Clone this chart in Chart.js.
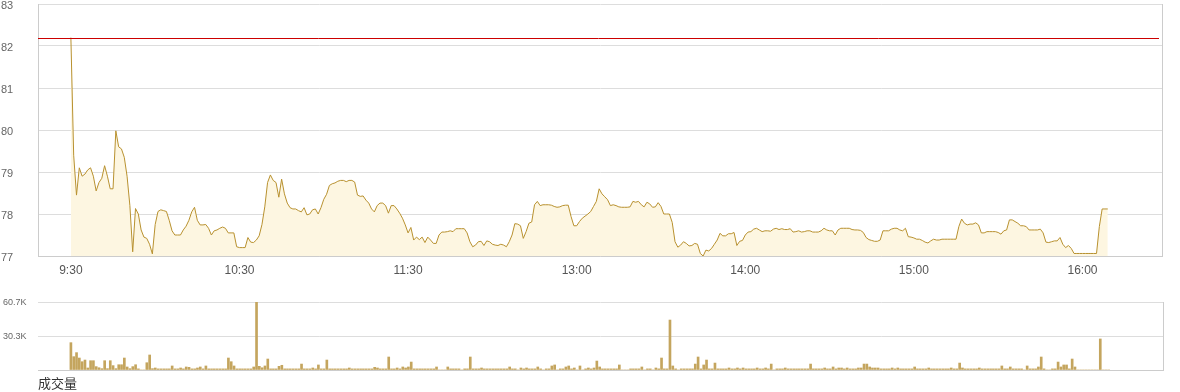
<!DOCTYPE html>
<html>
<head>
<meta charset="utf-8"/>
<title>分时走势</title>
<script src="https://cdn.jsdelivr.net/npm/chart.js"></script>
<style>
  body { margin: 0; background: #fff; width: 1180px; height: 392px; overflow: hidden; position: relative; }
  .box { position: absolute; left: 0; width: 1180px; }
</style>
</head>
<body>
<div class="box" style="top:0;height:290px"><canvas id="priceChart"></canvas></div>
<div class="box" style="top:290px;height:102px"><canvas id="volChart"></canvas></div>
<script>
// one value per trading minute, index 0 = 9:30
const prices = [
  82.2, 79.4, 78.45, 79.1, 78.9, 78.95, 79.05, 79.1, 78.9, 78.55,
  78.75, 78.85, 79.15, 78.9, 78.6, 78.6, 79.98, 79.6, 79.55, 79.35,
  78.9, 78.2, 77.1, 78.13, 78.0, 77.62, 77.45, 77.42, 77.28, 77.05,
  77.75, 78.06, 78.1, 78.08, 78.06, 77.85, 77.6, 77.5, 77.5, 77.5,
  77.62, 77.71, 77.85, 78.05, 78.16, 77.85, 77.74, 77.74, 77.75, 77.66,
  77.5, 77.6, 77.62, 77.66, 77.69, 77.66, 77.55, 77.55, 77.55, 77.22,
  77.2, 77.2, 77.2, 77.44, 77.33, 77.32, 77.38, 77.48, 77.75, 78.17,
  78.75, 78.93, 78.8, 78.75, 78.4, 78.83, 78.48, 78.26, 78.15, 78.12,
  78.12, 78.08, 78.05, 78.15, 77.98, 78.0, 78.1, 78.12, 78.0, 78.15,
  78.35, 78.47, 78.68, 78.72, 78.74, 78.78, 78.8, 78.8, 78.77, 78.8,
  78.8, 78.76, 78.45, 78.42, 78.43, 78.33, 78.26, 78.12, 78.05, 78.2,
  78.26, 78.26, 78.2, 78.02, 78.2, 78.2, 78.12, 78.02, 77.9, 77.74,
  77.55, 77.68, 77.38, 77.45, 77.39, 77.45, 77.32, 77.45, 77.38, 77.3,
  77.3, 77.5, 77.57, 77.57, 77.58, 77.6, 77.58, 77.65, 77.65, 77.65,
  77.65, 77.55, 77.34, 77.22, 77.26, 77.34, 77.35, 77.25, 77.36, 77.34,
  77.28, 77.26, 77.25, 77.28, 77.26, 77.22, 77.34, 77.5, 77.77, 77.76,
  77.72, 77.42, 77.58, 77.78, 77.81, 78.22, 78.3, 78.2, 78.22, 78.22,
  78.22, 78.21, 78.18, 78.16, 78.17, 78.2, 78.21, 78.21, 77.94, 77.72,
  77.72, 77.82, 77.9, 77.95, 78.0, 78.06, 78.18, 78.3, 78.6, 78.48,
  78.41, 78.34, 78.2, 78.22, 78.2, 78.17, 78.16, 78.16, 78.16, 78.17,
  78.3, 78.28, 78.3, 78.22, 78.17, 78.28, 78.24, 78.16, 78.17, 78.27,
  78.18, 78.0, 78.0, 78.0, 77.8, 77.34, 77.21, 77.26, 77.34, 77.3,
  77.24, 77.25, 77.3, 77.28, 77.06, 77.0, 77.14, 77.12, 77.18, 77.28,
  77.38, 77.54, 77.48, 77.48, 77.53, 77.53, 77.56, 77.25, 77.35, 77.37,
  77.5, 77.57, 77.58, 77.64, 77.66, 77.62, 77.58, 77.6, 77.6, 77.59,
  77.64, 77.66, 77.63, 77.65, 77.63, 77.63, 77.65, 77.57, 77.58, 77.6,
  77.57, 77.58, 77.6, 77.6, 77.57, 77.57, 77.57, 77.6, 77.66, 77.62,
  77.6, 77.6, 77.5, 77.62, 77.66, 77.66, 77.66, 77.66, 77.63, 77.62,
  77.62, 77.61, 77.56, 77.44, 77.39, 77.37, 77.35, 77.35, 77.38, 77.6,
  77.6, 77.6, 77.64, 77.66, 77.66, 77.62, 77.6, 77.66, 77.46, 77.45,
  77.43, 77.4, 77.4, 77.37, 77.33, 77.31, 77.36, 77.4, 77.38, 77.38,
  77.4, 77.4, 77.4, 77.4, 77.4, 77.4, 77.7, 77.88, 77.78, 77.74,
  77.76, 77.76, 77.79, 77.74, 77.55, 77.55, 77.58, 77.58, 77.58, 77.58,
  77.56, 77.52, 77.6, 77.62, 77.86, 77.86, 77.82, 77.78, 77.72, 77.72,
  77.7, 77.62, 77.62, 77.62, 77.62, 77.64, 77.55, 77.33, 77.32, 77.34,
  77.36, 77.36, 77.44, 77.28, 77.2, 77.25, 77.18, 77.06, 77.06, 77.06,
  77.06, 77.06, 77.06, 77.06, 77.06, 77.06, 77.7, 78.12, 78.12, 78.12
];

// volume per minute, in thousands of shares
const volumes = [
  24.4, 11.9, 15.5, 10.7, 7.4, 8.9, 1.8, 8.3, 8.3, 3,
  2, 1.2, 8.3, 1.2, 8.3, 3.9, 1.2, 4.7, 4.7, 10.7,
  2.7, 1.2, 3, 4.7, 1, 0, 0, 6.5, 13.4, 1.2,
  1.8, 1, 1, 1, 1, 1, 3.6, 1, 1, 1.8,
  1, 2.7, 2.4, 1, 1, 1.8, 2.7, 1, 3.6, 1,
  1, 1, 1, 1, 1, 1, 10.7, 7.4, 3.6, 1,
  1, 1, 1, 1, 1, 2.7, 60.7, 3.3, 2, 3.6,
  9.8, 1, 1, 1, 3.3, 4.2, 1, 1, 1, 1,
  1, 1, 5.3, 1, 1, 1, 1.8, 1, 4.5, 1,
  1, 8.9, 1, 1, 1, 1, 1, 1, 1, 1.8,
  1, 1, 1, 1, 1, 1, 1, 1, 2.4, 1.8,
  1, 1, 1, 11.6, 1, 1, 1.8, 1, 2.7, 1.8,
  2.7, 7.1, 1, 1, 1, 1, 1, 1, 1, 1,
  2.7, 0, 0, 0, 2.7, 1, 1, 1, 1, 0,
  1, 1, 11.6, 1, 1, 1, 1.8, 1, 1, 1,
  1, 1, 1, 1, 1, 1, 2.7, 1, 1, 0,
  1.8, 1, 1.8, 1, 1, 1, 2.7, 1, 0, 1,
  1, 3.6, 4.5, 0, 1, 1, 2.7, 3.6, 1, 1.8,
  0, 3.6, 0, 1, 1.8, 1, 1.8, 8, 2.7, 1,
  1, 1, 1, 1, 1, 4.5, 0, 0, 0, 1,
  1, 1, 1, 2.7, 0, 1, 1, 0, 1.8, 1,
  10.7, 1, 1, 44.6, 3.6, 1, 0, 1, 1, 1,
  1, 1, 5.3, 11.6, 1, 4.5, 8.9, 1, 1, 6.2,
  1, 1, 1, 1, 1.8, 1, 1, 1.8, 1, 1.8,
  1, 1, 1, 1, 1.8, 1, 1, 1.8, 1, 5.3,
  0, 1, 1, 1, 1.8, 1, 1, 1, 1, 1,
  1, 1, 1, 5.3, 1, 1, 1, 1, 1.8, 1,
  1, 2.7, 1, 1.8, 1.8, 1, 1.8, 1, 1, 1,
  1.8, 1.8, 5.3, 5.3, 2.7, 1.8, 1.8, 1.8, 1, 1,
  1, 1, 1.8, 1, 1.8, 1, 1, 1, 1, 1,
  2.7, 1, 1, 1, 1, 1.8, 1, 1, 1, 1,
  1, 1, 1, 1.8, 1, 1, 6.2, 1.8, 1, 1,
  1, 1, 1, 1.8, 1, 1, 1, 1, 1, 1,
  1, 3.6, 1, 1, 2.7, 1, 1, 1, 1, 0,
  3.6, 1, 1, 1, 2.7, 11.6, 1, 0, 0, 1,
  1, 7.1, 2.7, 4.5, 4.5, 1, 9.8, 2.7, 0, 0,
  0, 0, 0, 0, 0, 0, 27.7, 0, 0, 0
];

const prevClose = 82.2;
const timeTickPos = [0, 60, 120, 180, 240, 300, 360];
const timeTickLabels = ['9:30', '10:30', '11:30', '13:00', '14:00', '15:00', '16:00'];
const volTickVals = [30.35, 60.7];
const volTickLabels = ['30.3K', '60.7K'];
const xMin = -11.7, xMax = 388.3;

Chart.defaults.font.family = "'Liberation Sans', Arial, 'Noto Sans CJK SC', sans-serif";
Chart.defaults.animation = false;

const rightFrame = {
  id: 'rightFrame',
  afterDraw(chart) {
    const {ctx, chartArea: {top, bottom, right}} = chart;
    ctx.save();
    ctx.strokeStyle = '#cccccc';
    ctx.lineWidth = 1;
    ctx.beginPath();
    ctx.moveTo(Math.round(right) + 0.5, top);
    ctx.lineTo(Math.round(right) + 0.5, bottom);
    ctx.stroke();
    ctx.restore();
  }
};

const prevCloseLine = {
  id: 'prevCloseLine',
  afterDatasetsDraw(chart) {
    const {ctx, chartArea: {left, right}, scales: {y}} = chart;
    const py = Math.round(y.getPixelForValue(prevClose)) + 0.5;
    ctx.save();
    ctx.strokeStyle = '#cc0000';
    ctx.lineWidth = 1;
    ctx.beginPath();
    ctx.moveTo(left, py);
    ctx.lineTo(right - 3, py);
    ctx.stroke();
    ctx.restore();
  }
};

new Chart(document.getElementById('priceChart'), {
  type: 'line',
  data: {
    datasets: [{
      data: prices.map((p, i) => ({x: i, y: p})),
      borderColor: '#b8912f',
      backgroundColor: '#fdf6e1',
      borderWidth: 1,
      pointRadius: 0,
      tension: 0,
      fill: 'start'
    }]
  },
  options: {
    responsive: true,
    maintainAspectRatio: false,
    layout: {padding: {top: 4, right: 18, left: 1, bottom: 0}},
    plugins: {legend: {display: false}, tooltip: {enabled: false}},
    scales: {
      x: {
        type: 'linear', min: xMin, max: xMax,
        afterBuildTicks: s => { s.ticks = timeTickPos.map(v => ({value: v})); },
        afterFit: s => { s.height = 34; },
        ticks: {
          callback: v => timeTickLabels[timeTickPos.indexOf(v)],
          color: '#555', font: {size: 12}, padding: 7, maxRotation: 0, autoSkip: false
        },
        grid: {display: false, drawTicks: false},
        border: {color: '#cccccc'}
      },
      y: {
        min: 77, max: 83,
        afterFit: s => { s.width = 37; s.paddingTop = 0; s.paddingBottom = 0; },
        ticks: {stepSize: 1, color: '#666', font: {size: 11, lineHeight: 0.2}, crossAlign: 'far', labelOffset: 2, padding: 0},
        grid: {color: '#dddddd', drawTicks: false},
        border: {color: '#cccccc'}
      }
    }
  },
  plugins: [prevCloseLine, rightFrame]
});

new Chart(document.getElementById('volChart'), {
  type: 'bar',
  data: {
    datasets: [{
      data: volumes.map((v, i) => ({x: i, y: v})),
      backgroundColor: '#c4a55e',
      barThickness: 2
    }]
  },
  options: {
    responsive: true,
    maintainAspectRatio: false,
    layout: {padding: {top: 12, right: 17, left: 3, bottom: 0}},
    plugins: {legend: {display: false}, tooltip: {enabled: false}},
    scales: {
      x: {
        type: 'linear', min: xMin, max: xMax, offset: false,
        afterFit: s => { s.height = 22; },
        ticks: {display: false},
        grid: {display: false, drawTicks: false},
        border: {color: '#cccccc'},
        title: {display: true, text: '成交量', align: 'start', color: '#333', font: {size: 13}, padding: 0}
      },
      y: {
        min: 0, max: 60.7,
        afterBuildTicks: s => { s.ticks = [0].concat(volTickVals).map(v => ({value: v})); },
        afterFit: s => { s.width = 35; },
        ticks: {
          callback: v => { const k = volTickVals.indexOf(v); return k < 0 ? '' : volTickLabels[k]; },
          color: '#666', font: {size: 9}, crossAlign: 'far', labelOffset: 1
        },
        grid: {color: '#dddddd', drawTicks: false},
        border: {display: false}
      }
    }
  },
  plugins: [rightFrame]
});
</script>
</body>
</html>
